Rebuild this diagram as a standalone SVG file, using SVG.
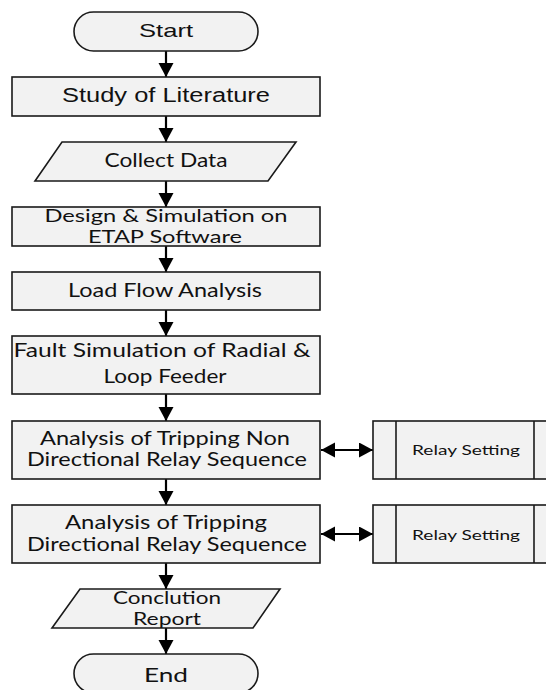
<svg xmlns="http://www.w3.org/2000/svg" width="546" height="690" viewBox="0 0 546 690">
<defs>
<style>
.shape{fill:#f2f2f2;stroke:#1a1a1a;stroke-width:1.6}
.a{font-family:"Liberation Sans",Arial,sans-serif;fill:#111;text-anchor:middle}
.c{font-family:Lato,"Open Sans",sans-serif;fill:#111;text-anchor:middle}
.conn{stroke:#000;stroke-width:2.2;fill:none}
</style>
<marker id="ah" markerUnits="userSpaceOnUse" markerWidth="16" markerHeight="16" refX="14" refY="7.5" orient="auto-start-reverse">
<path d="M0,0 L14,7.5 L0,15 z" fill="#000"/>
</marker>
</defs>
<rect width="546" height="690" fill="#fff"/>
<g id="connectors">
<line class="conn" x1="166" y1="51" x2="166" y2="77" marker-end="url(#ah)"/>
<line class="conn" x1="166" y1="116" x2="166" y2="142" marker-end="url(#ah)"/>
<line class="conn" x1="166" y1="181" x2="166" y2="207" marker-end="url(#ah)"/>
<line class="conn" x1="166" y1="246" x2="166" y2="272" marker-end="url(#ah)"/>
<line class="conn" x1="166" y1="310" x2="166" y2="336" marker-end="url(#ah)"/>
<line class="conn" x1="166" y1="394" x2="166" y2="421" marker-end="url(#ah)"/>
<line class="conn" x1="166" y1="479" x2="166" y2="505" marker-end="url(#ah)"/>
<line class="conn" x1="166" y1="563" x2="166" y2="589" marker-end="url(#ah)"/>
<line class="conn" x1="166" y1="628" x2="166" y2="654" marker-end="url(#ah)"/>
<line class="conn" x1="321" y1="450" x2="373" y2="450" marker-start="url(#ah)" marker-end="url(#ah)"/>
<line class="conn" x1="321" y1="534" x2="373" y2="534" marker-start="url(#ah)" marker-end="url(#ah)"/>
</g>
<g id="start">
<rect class="shape" x="74" y="12" width="184" height="39" rx="19.5"/>
<text class="a" x="166" y="37" font-size="19" textLength="54" lengthAdjust="spacingAndGlyphs">Start</text>
</g>
<g id="study">
<rect class="shape" x="12" y="77" width="308" height="39"/>
<text class="a" x="166" y="102" font-size="20" textLength="208" lengthAdjust="spacingAndGlyphs">Study of Literature</text>
</g>
<g id="collect">
<polygon class="shape" points="62,142 296,142 268,181 35,181"/>
<text class="c" x="166" y="167" font-size="19" textLength="123" lengthAdjust="spacingAndGlyphs">Collect Data</text>
</g>
<g id="design">
<rect class="shape" x="12" y="207" width="308" height="39"/>
<text class="c" x="166" y="222" font-size="18" textLength="243" lengthAdjust="spacingAndGlyphs">Design &amp; Simulation on</text>
<text class="c" x="165" y="243" font-size="18" textLength="154" lengthAdjust="spacingAndGlyphs">ETAP Software</text>
</g>
<g id="loadflow">
<rect class="shape" x="12" y="272" width="308" height="38"/>
<text class="c" x="165" y="297" font-size="19" textLength="194" lengthAdjust="spacingAndGlyphs">Load Flow Analysis</text>
</g>
<g id="fault">
<rect class="shape" x="12" y="336" width="308" height="58"/>
<text class="c" x="162" y="357" font-size="19" textLength="297" lengthAdjust="spacingAndGlyphs">Fault Simulation of Radial &amp;</text>
<text class="c" x="165" y="383" font-size="19" textLength="123" lengthAdjust="spacingAndGlyphs">Loop Feeder</text>
</g>
<g id="nondir">
<rect class="shape" x="12" y="421" width="308" height="58"/>
<text class="c" x="165" y="445" font-size="19" textLength="250" lengthAdjust="spacingAndGlyphs">Analysis of Tripping Non</text>
<text class="c" x="167" y="466" font-size="19" textLength="280" lengthAdjust="spacingAndGlyphs">Directional Relay Sequence</text>
</g>
<g id="dir">
<rect class="shape" x="12" y="505" width="308" height="58"/>
<text class="c" x="166" y="529" font-size="19" textLength="202" lengthAdjust="spacingAndGlyphs">Analysis of Tripping</text>
<text class="c" x="167" y="551" font-size="19" textLength="280" lengthAdjust="spacingAndGlyphs">Directional Relay Sequence</text>
</g>
<g id="relay1">
<rect class="shape" x="373" y="421" width="184" height="58"/>
<line class="shape" x1="396" y1="421" x2="396" y2="479"/>
<line class="shape" x1="534" y1="421" x2="534" y2="479"/>
<text class="c" x="466" y="455" font-size="14" textLength="108" lengthAdjust="spacingAndGlyphs">Relay Setting</text>
</g>
<g id="relay2">
<rect class="shape" x="373" y="505" width="184" height="58"/>
<line class="shape" x1="396" y1="505" x2="396" y2="563"/>
<line class="shape" x1="534" y1="505" x2="534" y2="563"/>
<text class="c" x="466" y="540" font-size="14" textLength="108" lengthAdjust="spacingAndGlyphs">Relay Setting</text>
</g>
<g id="conclution">
<polygon class="shape" points="80,589 280,589 253,628 52,628"/>
<text class="c" x="167" y="604" font-size="18" textLength="108" lengthAdjust="spacingAndGlyphs">Conclution</text>
<text class="c" x="167" y="625" font-size="18" textLength="68" lengthAdjust="spacingAndGlyphs">Report</text>
</g>
<g id="end">
<rect class="shape" x="74" y="654" width="184" height="39" rx="19.5"/>
<text class="c" x="166" y="682" font-size="20" textLength="44" lengthAdjust="spacingAndGlyphs">End</text>
</g>
</svg>
